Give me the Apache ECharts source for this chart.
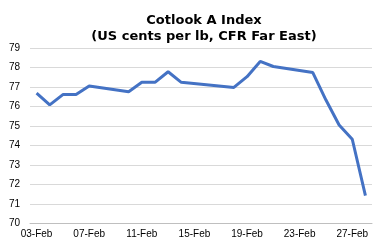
<!DOCTYPE html>
<html><head><meta charset="utf-8">
<script src="https://cdn.jsdelivr.net/npm/echarts@6/dist/echarts.min.js"></script>
<style>html,body{margin:0;padding:0;background:#fff}#c{width:386px;height:250px}</style>
</head><body><div id="c"></div>
<script>
const dates = ["03-Feb","04-Feb","05-Feb","06-Feb","07-Feb","08-Feb","09-Feb","10-Feb","11-Feb","12-Feb","13-Feb","14-Feb","15-Feb","16-Feb","17-Feb","18-Feb","19-Feb","20-Feb","21-Feb","22-Feb","23-Feb","24-Feb","25-Feb","26-Feb","27-Feb","28-Feb"];
const indexValues = [76.67,76.07,76.6,76.6,77.04,null,null,76.75,77.23,77.23,77.77,77.23,null,null,null,76.97,77.52,78.3,78.04,null,null,77.73,76.32,75.04,74.31,71.42];
const yTicks = {min:70, max:79, interval:1};
const titleLines = ["Cotlook A Index","(US cents per lb, CFR Far East)"];

const chart = echarts.init(document.getElementById('c'), null, {renderer:'canvas'});
chart.setOption({
  animation:false,
  backgroundColor:'#fff',
  title:{
    text: titleLines.join('\n'),
    left: 199, top: 8, textAlign:'center',
    textStyle:{fontFamily:'DejaVu Sans', fontWeight:'bold', fontSize:13, lineHeight:16, color:'#000'}
  },
  grid:{left:30, right:14, top:47.8, bottom:26.7},
  xAxis:{
    type:'category', data:dates, boundaryGap:true,
    axisLine:{lineStyle:{color:'#bfbfbf', width:1}},
    axisTick:{interval:3, length:4, lineStyle:{color:'#bfbfbf'}},
    axisLabel:{interval:3, color:'#000', fontFamily:'Liberation Sans', fontSize:10, margin:6}
  },
  yAxis:{
    type:'value', min:yTicks.min, max:yTicks.max, interval:yTicks.interval,
    axisLine:{show:false}, axisTick:{show:false},
    splitLine:{lineStyle:{color:'#d9d9d9', width:1}},
    axisLabel:{color:'#000', fontFamily:'Liberation Sans', fontSize:10, margin:10}
  },
  series:[{
    type:'line', data:indexValues, connectNulls:true, showSymbol:false,
    lineStyle:{color:'#4472C4', width:3}, itemStyle:{color:'#4472C4'}
  }]
});
</script></body></html>
